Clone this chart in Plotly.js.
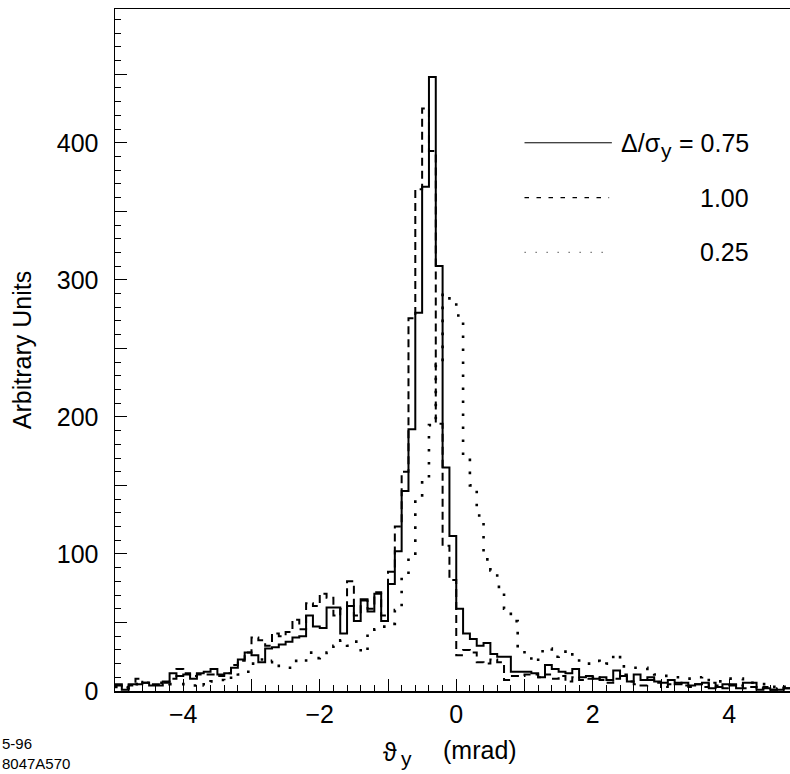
<!DOCTYPE html>
<html>
<head>
<meta charset="utf-8">
<script src="https://cdn.plot.ly/plotly-3.0.1.min.js"></script>
<style>html,body{margin:0;padding:0;background:#fff;}#chart{width:790px;height:774px;}</style>
</head>
<body>
<div id="chart"></div>
<script>
// Histogram binning: 100 bins of 0.1 mrad from -5 to 5
const binStart = -5;
const binWidth = 0.1;

// Δ/σy = 0.75 (solid)
const solid075 = [
  5, 1, 5, 5, 6, 4, 4, 7, 13, 11,
  12, 9, 13, 14, 16, 12, 13, 17, 23, 28,
  26, 21, 31, 32, 34, 36, 39, 40, 55, 47,
  46, 61, 61, 42, 62, 51, 67, 58, 71, 51,
  78, 102, 146, 191, 276, 368, 448, 310, 163, 113,
  60, 42, 38, 33, 35, 27, 25, 25, 14, 14,
  14, 13, 10, 19, 16, 14, 13, 16, 10, 11,
  9, 10, 8, 15, 11, 7, 12, 8, 10, 7,
  6, 8, 5, 6, 4, 5, 6, 2, 3, 5,
  4, 2, 6, 6, 1, 2, 1, 1, 2, 2
];
// Δ/σy = 1.00 (dashed)
const dashed100 = [
  4, 3, 4, 9, 6, 5, 5, 6, 9, 16,
  13, 11, 12, 12, 12, 11, 13, 19, 22, 28,
  39, 37, 33, 42, 40, 43, 52, 45, 64, 62,
  71, 68, 55, 60, 80, 55, 66, 60, 72, 55,
  87, 120, 160, 272, 366, 425, 394, 195, 106, 81,
  26, 30, 28, 21, 20, 23, 21, 8, 11, 11,
  12, 12, 10, 12, 9, 11, 7, 10, 8, 9,
  10, 8, 6, 9, 12, 7, 5, 4, 8, 6,
  3, 5, 6, 4, 3, 5, 3, 6, 4, 2,
  5, 4, 2, 3, 2, 3, 1, 2, 2, 2
];
// Δ/σy = 0.25 (dotted)
const dotted025 = [
  3, 2, 4, 5, 6, 6, 6, 7, 5, 5,
  5, 4, 6, 4, 7, 8, 7, 13, 12, 14,
  20, 23, 21, 22, 17, 17, 22, 21, 28, 24,
  26, 28, 33, 37, 33, 36, 28, 43, 45, 47,
  49, 59, 83, 97, 140, 154, 194, 238, 290, 284,
  274, 171, 150, 128, 96, 88, 76, 60, 51, 31,
  25, 21, 29, 31, 25, 26, 30, 25, 20, 20,
  22, 19, 20, 27, 18, 18, 17, 17, 13, 12,
  11, 10, 10, 9, 9, 10, 11, 8, 7, 9,
  9, 9, 7, 6, 5, 5, 3, 4, 3, 3
];

const legendValues = ['0.75', '1.00', '0.25'];
const xRange = [-5, 4.89];
const yRange = [0, 497.6];

function stepXY(vals) {
  const x = [], y = [];
  for (let i = 0; i < vals.length; i++) {
    x.push(binStart + i * binWidth);
    y.push(vals[i]);
  }
  x.push(binStart + vals.length * binWidth);
  y.push(vals[vals.length - 1]);
  return {x, y};
}

const FONT = 'Liberation Sans, Arial, Helvetica, sans-serif';
const s = stepXY(solid075), d = stepXY(dashed100), o = stepXY(dotted025);

const traces = [
  {x: o.x, y: o.y, type: 'scatter', mode: 'lines', line: {shape: 'hv', color: '#000', width: 2.6, dash: '2.6px,10.4px'}, name: legendValues[2], showlegend: false},
  {x: d.x, y: d.y, type: 'scatter', mode: 'lines', line: {shape: 'hv', color: '#000', width: 2, dash: '8px,5px'}, name: legendValues[1], showlegend: false},
  {x: s.x, y: s.y, type: 'scatter', mode: 'lines', line: {shape: 'hv', color: '#000', width: 2}, name: legendValues[0], showlegend: false},
  // empty trace that carries the secondary (tick-only) axes
  {x: [], y: [], type: 'scatter', mode: 'lines', xaxis: 'x2', yaxis: 'y2', showlegend: false, hoverinfo: 'skip'}
];

const legY = [400, 360, 320];
const tickOnly = {
  showgrid: false, zeroline: false, showline: false, showticklabels: false,
  ticks: 'inside', ticklen: 12, tickwidth: 1, tickcolor: '#000', tickmode: 'linear', tick0: 0
};
const ann = (o) => Object.assign({showarrow: false, borderpad: 0, font: {family: FONT, size: 25, color: '#000'}}, o);
const px2paperX = (px) => (px - 115) / 675;
const px2paperY = (py) => (691 - py) / 682;

const layout = {
  width: 790, height: 774,
  margin: {l: 115, r: 0, t: 9, b: 83},
  paper_bgcolor: '#fff', plot_bgcolor: '#fff',
  font: {family: FONT, size: 25, color: '#000'},
  showlegend: false,
  xaxis: {
    range: xRange, showgrid: false, zeroline: false,
    showline: true, linecolor: '#000', linewidth: 1.5, mirror: true,
    ticks: 'inside', ticklen: 12, tickwidth: 1, tickcolor: '#000',
    tickmode: 'linear', tick0: 0, dtick: 2,
    ticklabelstandoff: 0,
    minor: {tickmode: 'linear', tick0: 0, dtick: 0.2, ticks: 'inside', ticklen: 6, tickwidth: 1, tickcolor: '#000'},
    tickfont: {family: FONT, size: 25}
  },
  xaxis2: Object.assign({}, tickOnly, {range: xRange, overlaying: 'x', anchor: 'y', side: 'bottom', dtick: 1}),
  yaxis: {
    range: yRange, showgrid: false, zeroline: false,
    showline: true, linecolor: '#000', linewidth: 1.5, mirror: false,
    ticks: 'inside', ticklen: 12, tickwidth: 1, tickcolor: '#000',
    tickmode: 'linear', tick0: 0, dtick: 100,
    ticklabelstandoff: 10,
    minor: {tickmode: 'linear', tick0: 0, dtick: 10, ticks: 'inside', ticklen: 6, tickwidth: 1, tickcolor: '#000'},
    tickfont: {family: FONT, size: 25},
    title: {text: 'Arbitrary Units', font: {family: FONT, size: 25}, standoff: 18}
  },
  yaxis2: Object.assign({}, tickOnly, {range: yRange, overlaying: 'y', anchor: 'x', side: 'left', dtick: 50}),
  shapes: [
    {type: 'line', xref: 'x', yref: 'y', x0: 1.0, x1: 2.28, y0: legY[0], y1: legY[0], line: {color: '#000', width: 1}},
    {type: 'line', xref: 'x', yref: 'y', x0: 1.0, x1: 2.24, y0: legY[1], y1: legY[1], line: {color: '#000', width: 1.2, dash: '4.5px,7.5px'}},
    {type: 'line', xref: 'x', yref: 'y', x0: 1.0, x1: 2.24, y0: legY[2], y1: legY[2], line: {color: '#666', width: 1.3, dash: '1.3px,9.7px'}}
  ],
  annotations: [
    // legend texts
    ann({xref: 'x', yref: 'y', x: 2.40, y: legY[0], xanchor: 'left', yanchor: 'middle', text: '\u0394/\u03c3'}),
    ann({xref: 'x', yref: 'y', x: 2.99, y: legY[0] - 6, xanchor: 'left', yanchor: 'middle', text: 'y', font: {family: FONT, size: 21, color: '#000'}}),
    ann({xref: 'x', yref: 'y', x: 4.30, y: legY[0], xanchor: 'right', yanchor: 'middle', text: '= ' + legendValues[0]}),
    ann({xref: 'x', yref: 'y', x: 4.30, y: legY[1], xanchor: 'right', yanchor: 'middle', text: legendValues[1]}),
    ann({xref: 'x', yref: 'y', x: 4.30, y: legY[2], xanchor: 'right', yanchor: 'middle', text: legendValues[2]}),
    // x-axis title: ϑ_y (mrad)
    ann({xref: 'paper', yref: 'paper', x: px2paperX(382), y: px2paperY(752), xanchor: 'left', yanchor: 'middle', text: '\u03d1'}),
    ann({xref: 'paper', yref: 'paper', x: px2paperX(400), y: px2paperY(759), xanchor: 'left', yanchor: 'middle', text: 'y', font: {family: FONT, size: 21, color: '#000'}}),
    ann({xref: 'paper', yref: 'paper', x: px2paperX(442), y: px2paperY(750), xanchor: 'left', yanchor: 'middle', text: '(mrad)'}),
    // corner label
    ann({xref: 'paper', yref: 'paper', x: px2paperX(1), y: px2paperY(753), xanchor: 'left', yanchor: 'middle', align: 'left', text: '5-96<br>8047A570', font: {family: FONT, size: 15, color: '#000'}})
  ]
};

Plotly.newPlot('chart', traces, layout, {displayModeBar: false, staticPlot: true});
</script>
</body>
</html>
